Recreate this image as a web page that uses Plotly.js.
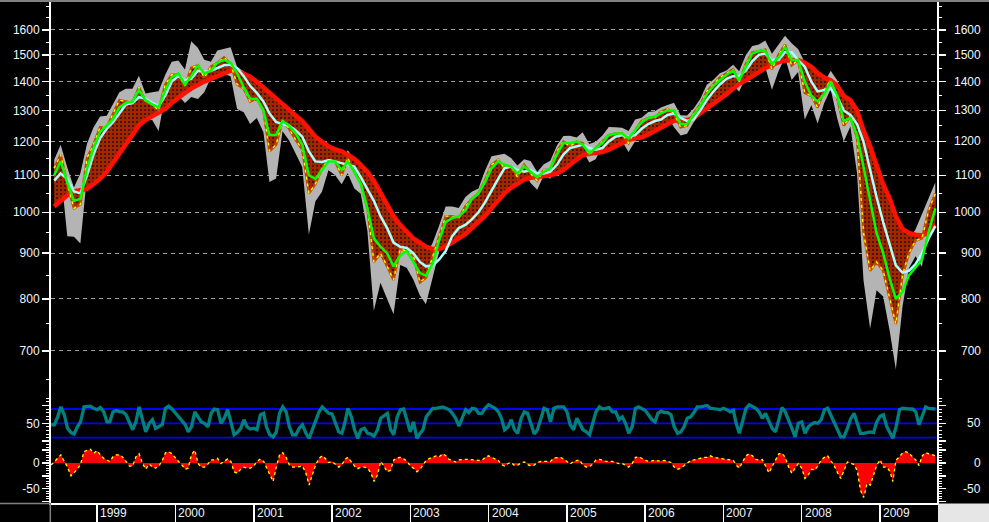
<!DOCTYPE html>
<html>
<head>
<meta charset="utf-8">
<script src="https://cdn.plot.ly/plotly-3.0.1.min.js"></script>
<style>
html,body{margin:0;padding:0;background:#000;}
#chart{width:989px;height:522px;}
</style>
</head>
<body>
<div id="chart"></div>
<script>
// ---------- DATA (monthly, Jun 1998 .. Sep 2009) ----------
const firstYear = 1998, firstMonth = 6;
const priceHigh = [1145,1190,1122,1066,1106,1193,1244,
 1280,1282,1317,1362,1375,1375,1421,1358,1362,1366,1425,1474,
 1478,1444,1553,1528,1481,1474,1517,1525,1530,1454,1438,1389,
 1383,1376,1267,1269,1316,1286,1239,1216,1134,1110,1163,1173,
 1176,1131,1173,1147,1107,1070,994,966,925,900,951,954,
 936,864,896,924,965,1015,1015,1011,1040,1054,1063,1112,
 1155,1159,1163,1150,1128,1146,1141,1109,1132,1142,1188,1217,
 1218,1212,1229,1192,1199,1219,1246,1245,1243,1233,1270,1276,
 1295,1297,1310,1318,1326,1284,1283,1306,1340,1389,1407,1431,
 1441,1462,1438,1498,1535,1541,1556,1504,1539,1576,1545,1523,
 1471,1396,1352,1397,1440,1404,1293,1314,1303,1167,1007,919,
 943,876,832,875,930,957,996,1039,1080];
const priceLow = [1074,1114,940,939,923,1098,1133,
 1205,1211,1234,1282,1281,1277,1324,1268,1268,1233,1355,1387,
 1350,1325,1346,1339,1362,1415,1417,1431,1419,1305,1294,1255,
 1275,1229,1081,1091,1232,1203,1165,1124,944,1028,1054,1114,
 1101,1075,1106,1063,1049,953,776,834,800,769,873,867,
 841,807,789,847,902,957,962,960,990,994,1031,1056,
 1105,1124,1087,1104,1076,1113,1078,1060,1100,1090,1128,1162,
 1163,1180,1174,1137,1146,1188,1184,1201,1201,1168,1201,1246,
 1245,1253,1268,1280,1245,1219,1224,1261,1290,1327,1360,1385,
 1403,1389,1364,1416,1476,1484,1452,1371,1439,1490,1406,1435,
 1270,1317,1257,1325,1373,1272,1200,1247,1106,840,741,818,
 805,735,667,784,866,893,869,979,992];
const price = [1120,1160,1075,1010,1020,1150,1190,
 1245,1245,1285,1335,1330,1325,1380,1330,1320,1300,1390,1425,
 1425,1385,1450,1460,1415,1455,1470,1490,1465,1390,1375,1330,
 1340,1300,1170,1190,1265,1240,1205,1175,1050,1075,1120,1145,
 1140,1100,1150,1110,1080,1010,880,900,870,840,910,905,
 895,835,845,890,935,990,990,985,1015,1035,1050,1085,
 1130,1145,1120,1125,1095,1130,1105,1085,1115,1115,1170,1200,
 1185,1200,1195,1160,1180,1200,1220,1225,1225,1195,1235,1265,
 1275,1275,1295,1305,1290,1245,1250,1290,1320,1365,1390,1415,
 1430,1445,1400,1465,1510,1515,1520,1445,1500,1540,1460,1480,
 1360,1350,1310,1370,1405,1340,1250,1280,1210,950,860,880,
 860,800,750,850,900,930,935,1005,1050];
const maRed = [1015,1030,1045,1055,1058,1062,1075,
 1090,1110,1135,1165,1195,1225,1250,1268,1280,1290,1305,1325,
 1345,1360,1375,1390,1400,1410,1420,1430,1440,1440,1430,1418,
 1400,1380,1360,1340,1320,1305,1285,1265,1240,1215,1200,1185,
 1176,1170,1160,1148,1130,1110,1085,1050,1020,990,968,950,
 935,925,915,910,910,915,925,935,945,960,975,990,
 1010,1030,1050,1065,1078,1088,1093,1095,1097,1100,1105,1115,
 1130,1145,1158,1163,1165,1168,1175,1185,1195,1205,1210,1212,
 1222,1233,1245,1258,1266,1268,1268,1275,1290,1305,1322,1338,
 1355,1375,1392,1405,1418,1435,1450,1462,1472,1478,1480,1480,
 1470,1455,1432,1415,1405,1385,1350,1335,1300,1235,1185,1130,
 1075,1035,990,958,948,944,942,950,968];
const maWhite = [1085,1105,1090,1055,1050,1100,1160,
 1210,1240,1260,1290,1320,1325,1345,1340,1325,1315,1350,1400,
 1420,1405,1410,1440,1435,1440,1450,1460,1462,1450,1420,1385,
 1360,1330,1290,1262,1255,1250,1235,1215,1170,1140,1138,1143,
 1140,1135,1130,1125,1095,1060,1030,990,960,925,915,912,
 900,880,870,872,885,905,940,960,968,982,1000,1025,
 1055,1090,1120,1125,1115,1110,1115,1105,1105,1110,1130,1160,
 1180,1185,1190,1180,1175,1180,1200,1215,1220,1215,1220,1240,
 1255,1265,1270,1285,1290,1275,1265,1270,1300,1335,1365,1390,
 1410,1420,1420,1440,1475,1500,1505,1480,1480,1510,1510,1480,
 1455,1400,1365,1370,1375,1345,1300,1285,1255,1200,1115,1040,
 975,920,872,856,860,875,900,935,965];
const maGreen = [1100,1140,1080,1030,1035,1120,1180,
 1230,1250,1270,1310,1325,1330,1370,1335,1320,1310,1370,1415,
 1430,1390,1420,1460,1430,1440,1470,1480,1470,1430,1380,1340,
 1340,1300,1220,1220,1265,1250,1225,1190,1100,1090,1115,1140,
 1140,1115,1140,1110,1075,1010,935,915,900,870,895,905,
 880,855,850,875,930,975,985,990,1005,1035,1050,1080,
 1120,1140,1130,1125,1105,1125,1110,1095,1110,1120,1160,1195,
 1195,1200,1190,1165,1180,1195,1220,1225,1225,1210,1235,1260,
 1275,1280,1290,1300,1300,1255,1255,1285,1315,1355,1385,1405,
 1425,1440,1405,1455,1505,1515,1515,1465,1490,1530,1480,1480,
 1400,1350,1330,1355,1400,1350,1265,1275,1220,1125,1035,948,
 900,842,800,815,850,868,885,950,1010];
// half-monthly (1st and 16th of each month)
const oscValues = [48,48,59,73,62,43,37,35,45,52,
 73,74,74,71,69,72,66,52,52,66,
 68,66,66,62,52,41,52,73,55,38,
 50,55,43,45,48,71,74,70,64,58,
 52,48,38,45,66,59,52,50,45,64,
 70,69,50,57,69,52,34,37,43,55,
 45,42,43,41,62,64,45,34,31,38,
 64,73,66,45,34,34,43,48,36,29,
 41,55,66,73,69,64,63,50,38,36,
 50,71,59,41,29,41,43,36,35,32,
 41,57,60,64,41,34,59,69,70,55,
 38,52,29,36,41,59,66,71,71,72,
 73,71,69,64,57,46,57,69,65,71,
 70,64,64,71,76,73,71,66,57,41,
 45,55,41,36,57,66,64,50,35,41,
 57,71,69,52,71,73,73,73,66,48,
 41,57,50,41,38,34,50,66,73,70,
 71,72,66,66,55,59,50,36,45,71,
 73,70,68,62,55,52,64,67,65,65,
 62,45,36,38,45,57,59,65,73,73,
 74,75,71,71,70,69,71,69,66,68,
 50,36,55,71,76,73,71,66,57,64,
 52,43,38,57,72,66,55,43,31,50,
 52,36,45,49,51,50,55,69,71,62,
 52,41,31,31,43,56,64,48,36,36,
 37,38,37,52,60,62,45,36,29,45,
 69,71,70,70,70,66,48,59,73,71,
 71,70];
const histValues = [-4,3,9,16,3,-8,-25,-19,-12,-2,
 22,25,27,19,24,16,9,6,3,12,
 16,16,11,3,-6,-6,12,18,-1,-12,
 -2,-8,-10,-6,5,20,22,18,9,3,
 -4,-12,-10,16,25,-1,-8,-8,-2,6,
 6,9,-1,4,8,3,-17,-20,-12,-8,
 -10,-10,-6,3,8,3,-8,-21,-36,-8,
 16,20,11,-4,-8,-8,-7,-6,-20,-43,
 -23,-4,9,14,9,1,3,-3,-8,-4,
 7,11,1,-6,-11,-8,-8,-10,-19,-36,
 -23,3,-7,-17,-14,6,10,11,8,4,
 -6,-10,-17,-12,-4,5,9,12,14,12,
 18,14,7,5,2,6,7,7,7,6,
 6,5,5,11,14,11,9,5,-3,-6,
 -1,1,-5,-4,0,2,-3,-6,-4,1,
 3,3,3,3,10,11,11,8,3,-2,
 3,5,6,-4,-8,-7,-2,6,7,6,
 3,3,3,1,-1,-1,-4,-8,-1,11,
 12,9,7,3,4,6,4,5,5,3,
 1,-8,-12,-10,-5,-1,5,6,8,9,
 11,11,14,11,10,8,7,6,6,5,
 -4,-10,3,14,18,14,7,6,7,-7,
 -19,-7,7,18,19,11,-8,-20,-10,-1,
 -10,-30,-23,-12,-14,-6,6,11,14,5,
 -6,-19,-30,-15,2,0,-3,-15,-53,-67,
 -40,-43,-23,-4,6,-8,-8,-17,-36,6,
 12,20,22,19,12,6,-5,14,20,18,
 16,14];
const oscLevels = [30, 50, 70];
const mainTicks = [700, 800, 900, 1000, 1100, 1200, 1300, 1400, 1500, 1600];
const mainMinorTicks = [650, 750, 850, 950, 1050, 1150, 1250, 1350, 1450, 1550, 1650, 1700];
const oscTicks = [25, 50, 75], oscTickText = ['', '50', ''];
const histTicks = [25, 0, -25, -50, -75], histTickText = ['', '0', '', '-50', ''];
const yearLabels = ['1999','2000','2001','2002','2003','2004','2005','2006','2007','2008','2009'];

// ---------- dates ----------
function pad(n){return (n<10?'0':'')+n;}
function monthDate(m, day){
  const t = firstMonth - 1 + m;
  return (firstYear + Math.floor(t/12)) + '-' + pad(t%12 + 1) + '-' + pad(day);
}
const mDates = price.map((_, m) => monthDate(m, 15));
const hDates = oscValues.map((_, k) => monthDate(Math.floor(k/2), k%2 ? 16 : 1));
const yearDates = yearLabels.map(y => y + '-01-01');

const skip = {hoverinfo:'skip', showlegend:false, mode:'lines'};
const traces = [
  Object.assign({x:mDates, y:priceLow, line:{width:0}}, skip),
  Object.assign({x:mDates, y:priceHigh, line:{width:0}, fill:'tonexty', fillcolor:'#b4b4b4'}, skip),
  Object.assign({x:mDates, y:maRed, line:{width:0}}, skip),
  Object.assign({x:mDates, y:price, line:{width:0}, fill:'tonexty', fillcolor:'#a02800',
    fillpattern:{shape:'.', bgcolor:'#a02800', fgcolor:'#3a0c00', size:4, solidity:0.22}}, skip),
  Object.assign({x:mDates, y:maRed, line:{color:'#ff1000', width:4.5}}, skip),
  Object.assign({x:mDates, y:price, line:{color:'#c04a00', width:2.5}}, skip),
  Object.assign({x:mDates, y:price, line:{color:'#ffff00', width:1.3, dash:'3px,4px'}}, skip),
  Object.assign({x:mDates, y:maWhite, line:{color:'#aaffff', width:2.5}}, skip),
  Object.assign({x:mDates, y:maGreen, line:{color:'#00ff00', width:2.5}}, skip),
  Object.assign({x:hDates, y:oscValues, yaxis:'y2', line:{color:'#008080', width:3.3}}, skip),
  Object.assign({x:hDates, y:histValues, yaxis:'y3', fill:'tozeroy', fillcolor:'#ff0000', line:{color:'#ffff00', width:1.3, dash:'3px,3px'}}, skip)
];

const H = 503, W = 886;
const tickFont = {family:'Liberation Sans, Arial, sans-serif', size:12, color:'#eef6ff'};
const yCommon = {ticks:'outside', ticklen:7, tickwidth:1.5, tickcolor:'#ffffff', showline:true,
  linecolor:'#ffffff', linewidth:2, mirror:'allticks', zeroline:false, tickfont:tickFont, fixedrange:true};

const annotations = [];
mainTicks.forEach(v => annotations.push({xref:'paper', yref:'y', x:1+46/W, y:Math.log10(v), xanchor:'right', yanchor:'middle', text:String(v), showarrow:false, font:tickFont}));
oscTicks.forEach((v,i) => { if (oscTickText[i]) annotations.push({xref:'paper', yref:'y2', x:1+46/W, y:v, xanchor:'right', yanchor:'middle', text:oscTickText[i], showarrow:false, font:tickFont}); });
histTicks.forEach((v,i) => { if (histTickText[i]) annotations.push({xref:'paper', yref:'y3', x:1+46/W, y:v, xanchor:'right', yanchor:'middle', text:histTickText[i], showarrow:false, font:tickFont}); });
yearLabels.forEach((t,i) => annotations.push({xref:'x', yref:'paper', x:yearDates[i], xshift:1, y:-9.5/H, xanchor:'left', yanchor:'middle', text:t, showarrow:false, font:tickFont}));

const shapes = oscLevels.map(v => ({type:'line', xref:'paper', yref:'y2', x0:0, x1:1, y0:v, y1:v, line:{color:'#0000ff', width:1.8}, layer:'below'}));
shapes.push({type:'line', xref:'paper', yref:'paper', x0:-51/W, x1:1+52/W, y0:1-1/H, y1:1-1/H, line:{color:'#808080', width:2}});
shapes.push({type:'line', xref:'paper', yref:'paper', x0:-51/W, x1:0, y0:-0.5/H, y1:-0.5/H, line:{color:'#808080', width:1.5}});
shapes.push({type:'line', xref:'paper', yref:'paper', x0:-0.7/W, x1:-0.7/W, y0:0, y1:-19/H, line:{color:'#808080', width:1.5}});
shapes.push({type:'rect', xref:'paper', yref:'paper', x0:1+1/W, x1:1+53/W, y0:-20/H, y1:-0.5/H, fillcolor:'#e6e6e6', line:{width:0}});

const layout = {
  width:989, height:522,
  margin:{l:51, r:52, t:0, b:19, pad:0},
  paper_bgcolor:'#000000', plot_bgcolor:'#000000',
  showlegend:false,
  font:tickFont,
  xaxis:{type:'date', range:['1998-05-31','2009-09-23'], anchor:'y3', showgrid:false, zeroline:false,
    showline:true, linecolor:'#ffffff', linewidth:1.5, ticks:'outside', ticklen:19, tickwidth:1.5,
    tickcolor:'#ffffff', tickmode:'array', tickvals:yearDates, showticklabels:false, fixedrange:true},
  yaxis:Object.assign({domain:[105/H, 1], type:'log', range:[Math.log10(619.8), Math.log10(1727.6)],
    tickmode:'array', tickvals:mainTicks, ticktext:mainTicks.map(String),
    showgrid:true, gridcolor:'#a0a0a0', gridwidth:1, griddash:'4px,4px',
    minor:{tickmode:'array', tickvals:mainMinorTicks, ticklen:3, tickwidth:1, tickcolor:'#ffffff', showgrid:false}}, yCommon),
  yaxis2:Object.assign({domain:[57/H, 105/H], range:[18.25, 85.4], tickmode:'array', tickvals:oscTicks, ticktext:oscTickText,
    showgrid:false, minor:{dtick:5, ticklen:3, tickwidth:1, tickcolor:'#ffffff', showgrid:false}}, yCommon),
  yaxis3:Object.assign({domain:[0, 57/H], range:[-77.8, 33.1], tickmode:'array', tickvals:histTicks, ticktext:histTickText,
    showgrid:false, minor:{dtick:5, ticklen:3, tickwidth:1, tickcolor:'#ffffff', showgrid:false}}, yCommon),
  annotations:annotations,
  shapes:shapes
};

Plotly.newPlot('chart', traces, layout, {displayModeBar:false, staticPlot:true});
</script>
</body>
</html>
